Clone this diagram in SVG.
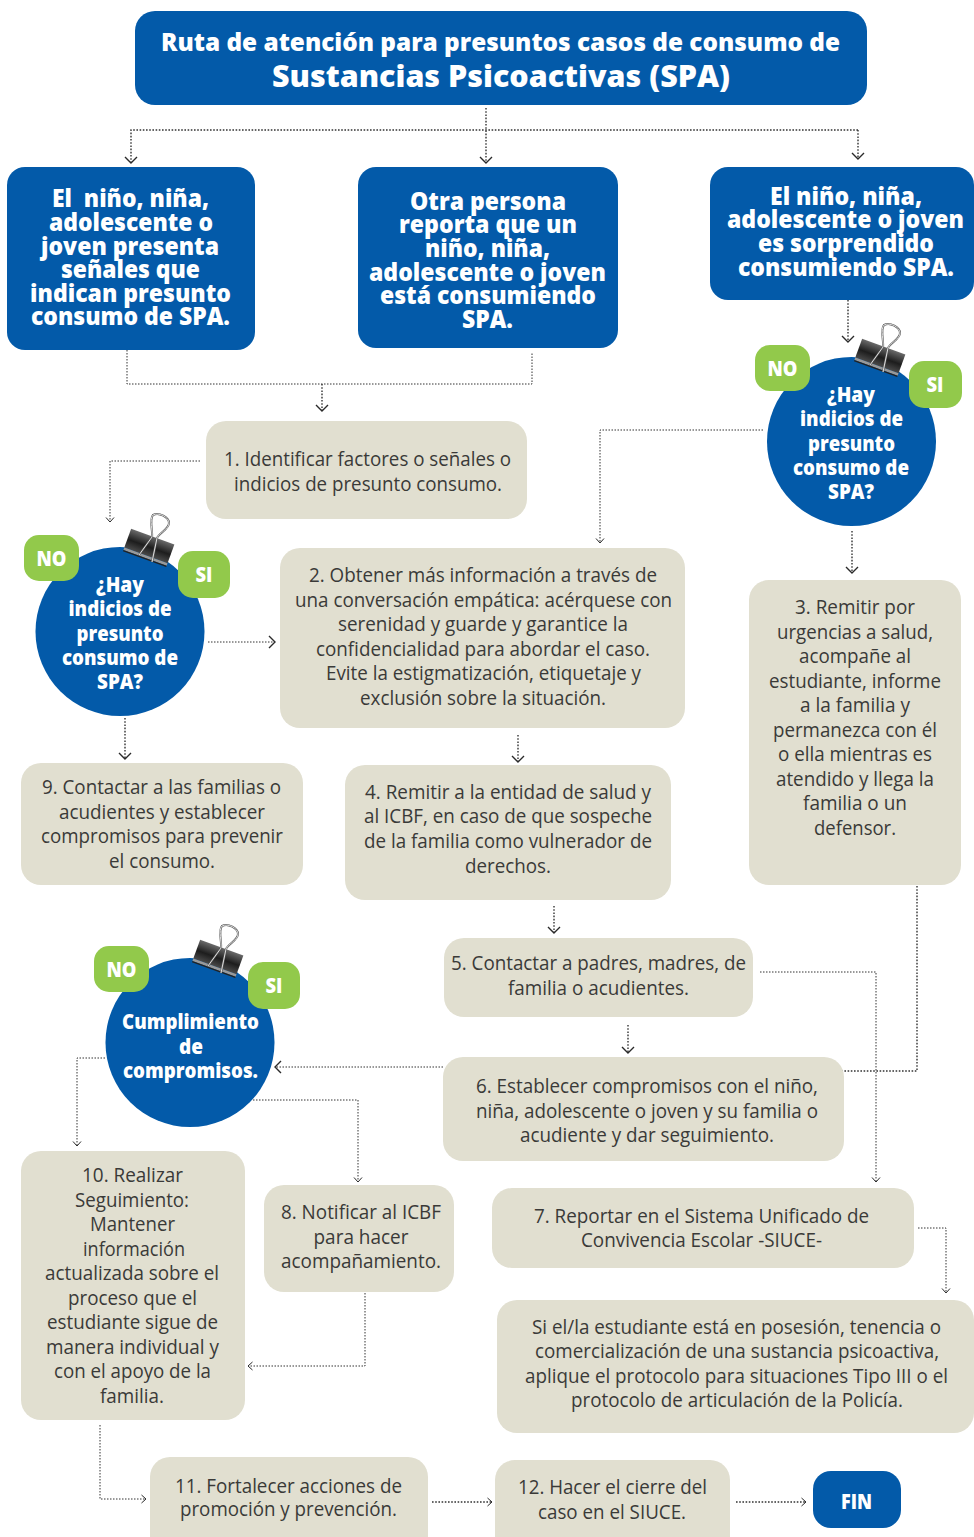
<svg xmlns="http://www.w3.org/2000/svg" width="974" height="1537" viewBox="0 0 974 1537">
<style>
text{font-family:"Open Sans","Noto Sans","Liberation Sans",sans-serif;text-anchor:middle}
.b{fill:#035aa9}
.g{fill:#e1dfd0}
.v{fill:#92c94b}
.t{font-size:20.5px;fill:#3a3a38}
.w{font-size:24px;font-weight:800;fill:#fff}
.q{font-size:21px;font-weight:800;fill:#fff}
.e{text-anchor:end;font-size:19.8px}
.c{fill:none;stroke:#333;stroke-width:1;stroke-dasharray:1.5 1.5}
.c2{fill:none;stroke:#333;stroke-width:1.4;stroke-dasharray:1.6 1.6}
</style>
<defs>
<marker id="a" markerUnits="userSpaceOnUse" markerWidth="14" markerHeight="14" refX="9" refY="7" orient="auto"><path d="M3 1L9 7L3 13" fill="none" stroke="#2a2a2a" stroke-width="1.4"/></marker>
<marker id="s" markerUnits="userSpaceOnUse" markerWidth="10" markerHeight="10" refX="7" refY="5" orient="auto"><path d="M2.500 1L7 5L2.500 9" fill="none" stroke="#2a2a2a" stroke-width="1"/></marker>
<linearGradient id="m" x1="0" y1="0" x2="0" y2="1"><stop offset="0" stop-color="#6a6a6a"/><stop offset=".55" stop-color="#1d1d1d"/><stop offset="1" stop-color="#4a4a4a"/></linearGradient>
<g id="clip">
<g transform="rotate(20)"><rect x="-23" y="-11" width="46" height="20" fill="url(#m)"/><rect x="-23" y="9" width="46" height="2.500" fill="#999"/><rect x="-23" y="11.500" width="46" height="1.500" fill="#222"/></g>
<path d="M-10 8L3-10C4-15 0-28 4-32C10-35 20-30 20-24C20-18 10-14 8-9L3 15" fill="none" stroke="#555" stroke-width="2"/>
<path d="M-10 8L3-10C4-15 0-28 4-32C10-35 20-30 20-24C20-18 10-14 8-9L3 15" fill="none" stroke="#eee" stroke-width=".9"/>
</g>
</defs>
<g id="connectors">
<path class="c2" d="M486 108V163" marker-end="url(#a)"/>
<path class="c2" d="M858 130H131V163" marker-end="url(#a)"/>
<path class="c2" d="M858 130V159" marker-end="url(#a)"/>
<path class="c2" d="M848 300V342" marker-end="url(#a)"/>
<path class="c" d="M127 350V384H532V352"/>
<path class="c2" d="M322 384V411" marker-end="url(#a)"/>
<path class="c" d="M763 430H600V543" marker-end="url(#s)"/>
<path class="c2" d="M852 531V573" marker-end="url(#a)"/>
<path class="c" d="M200 461H110V522" marker-end="url(#s)"/>
<path class="c" d="M208 642H275" marker-end="url(#a)"/>
<path class="c2" d="M125 718V759" marker-end="url(#a)"/>
<path class="c2" d="M518 735V762" marker-end="url(#a)"/>
<path class="c2" d="M554 906V933" marker-end="url(#a)"/>
<path class="c2" d="M628 1025V1053" marker-end="url(#a)"/>
<path class="c2" d="M917 886V1071H841"/>
<path class="c" d="M760 972H876V1182" marker-end="url(#s)"/>
<path class="c" d="M443 1067H275" marker-end="url(#a)"/>
<path class="c" d="M105 1058H77V1146" marker-end="url(#s)"/>
<path class="c" d="M253 1100H358V1182" marker-end="url(#s)"/>
<path class="c" d="M365 1293V1366H248" marker-end="url(#s)"/>
<path class="c" d="M918 1228H946V1293" marker-end="url(#s)"/>
<path class="c" d="M100 1425V1499H146" marker-end="url(#s)"/>
<path class="c2" d="M432 1502H492" marker-end="url(#s)"/>
<path class="c2" d="M736 1502H806" marker-end="url(#s)"/>
</g>
<g id="title">
<rect class="b" x="135" y="11" width="732" height="94" rx="20"/>
<text x="500.500" y="51" font-size="25" font-weight="800" fill="#fff" textLength="679" lengthAdjust="spacingAndGlyphs">Ruta de atención para presuntos casos de consumo de</text>
<text x="501" y="87" font-size="30" font-weight="800" fill="#fff" textLength="458" lengthAdjust="spacingAndGlyphs">Sustancias Psicoactivas (SPA)</text>
</g>
<g id="n-left">
<rect class="b" x="7" y="167" width="248" height="183" rx="18"/>
<text class="w" x="130.500" y="207" textLength="157" lengthAdjust="spacingAndGlyphs" xml:space="preserve">El  niño, niña,</text>
<text class="w" x="131" y="231" textLength="164" lengthAdjust="spacingAndGlyphs">adolescente o</text>
<text class="w" x="130" y="255" textLength="178" lengthAdjust="spacingAndGlyphs">joven presenta</text>
<text class="w" x="130.500" y="278" textLength="139" lengthAdjust="spacingAndGlyphs">señales que</text>
<text class="w" x="130.500" y="302" textLength="201" lengthAdjust="spacingAndGlyphs">indican presunto</text>
<text class="w" x="130.500" y="325" textLength="199" lengthAdjust="spacingAndGlyphs">consumo de SPA.</text>
</g>
<g id="n-mid">
<rect class="b" x="358" y="167" width="260" height="181" rx="18"/>
<text class="w" x="488" y="210" textLength="156" lengthAdjust="spacingAndGlyphs">Otra persona</text>
<text class="w" x="488" y="233" textLength="178" lengthAdjust="spacingAndGlyphs">reporta que un</text>
<text class="w" x="487.500" y="257" textLength="125" lengthAdjust="spacingAndGlyphs">niño, niña,</text>
<text class="w" x="487.500" y="281" textLength="237" lengthAdjust="spacingAndGlyphs">adolescente o joven</text>
<text class="w" x="488" y="304" textLength="216" lengthAdjust="spacingAndGlyphs">está consumiendo</text>
<text class="w" x="487.500" y="328" textLength="51" lengthAdjust="spacingAndGlyphs">SPA.</text>
</g>
<g id="n-right">
<rect class="b" x="710" y="167" width="264" height="133" rx="18"/>
<text class="w" x="846" y="205" textLength="152" lengthAdjust="spacingAndGlyphs">El niño, niña,</text>
<text class="w" x="845.500" y="228" textLength="237" lengthAdjust="spacingAndGlyphs">adolescente o joven</text>
<text class="w" x="846" y="252" textLength="176" lengthAdjust="spacingAndGlyphs">es sorprendido</text>
<text class="w" x="846" y="276" textLength="216" lengthAdjust="spacingAndGlyphs">consumiendo SPA.</text>
</g>
<g id="d-right">
<circle class="b" cx="851.500" cy="441.500" r="84.500"/>
<use href="#clip" x="880" y="357"/>
<rect class="v" x="755" y="345" width="55" height="46" rx="15"/>
<rect class="v" x="909" y="361" width="53" height="47" rx="15"/>
<text class="q" x="782.500" y="376" textLength="30" lengthAdjust="spacingAndGlyphs">NO</text>
<text class="q" x="935" y="392" textLength="17" lengthAdjust="spacingAndGlyphs">SI</text>
<text class="q" x="851" y="402" textLength="48" lengthAdjust="spacingAndGlyphs">¿Hay</text>
<text class="q" x="851.500" y="426" textLength="103" lengthAdjust="spacingAndGlyphs">indicios de</text>
<text class="q" x="851.500" y="451" textLength="87" lengthAdjust="spacingAndGlyphs">presunto</text>
<text class="q" x="851" y="475" textLength="116" lengthAdjust="spacingAndGlyphs">consumo de</text>
<text class="q" x="851" y="499" textLength="46" lengthAdjust="spacingAndGlyphs">SPA?</text>
</g>
<g id="d-left">
<circle class="b" cx="120" cy="631.500" r="84.500"/>
<use href="#clip" x="149" y="547"/>
<rect class="v" x="24" y="535" width="55" height="46" rx="15"/>
<rect class="v" x="178" y="551" width="52" height="47" rx="15"/>
<text class="q" x="51.500" y="566" textLength="30" lengthAdjust="spacingAndGlyphs">NO</text>
<text class="q" x="204" y="582" textLength="17" lengthAdjust="spacingAndGlyphs">SI</text>
<text class="q" x="120" y="592" textLength="48" lengthAdjust="spacingAndGlyphs">¿Hay</text>
<text class="q" x="120" y="616" textLength="103" lengthAdjust="spacingAndGlyphs">indicios de</text>
<text class="q" x="120" y="641" textLength="87" lengthAdjust="spacingAndGlyphs">presunto</text>
<text class="q" x="120" y="665" textLength="116" lengthAdjust="spacingAndGlyphs">consumo de</text>
<text class="q" x="120" y="689" textLength="46" lengthAdjust="spacingAndGlyphs">SPA?</text>
</g>
<g id="d-bottom">
<circle class="b" cx="190" cy="1042.500" r="84.500"/>
<use href="#clip" x="218" y="958"/>
<rect class="v" x="94" y="946" width="55" height="46" rx="15"/>
<rect class="v" x="248" y="962" width="52" height="47" rx="15"/>
<text class="q" x="121.500" y="977" textLength="30" lengthAdjust="spacingAndGlyphs">NO</text>
<text class="q" x="274" y="993" textLength="17" lengthAdjust="spacingAndGlyphs">SI</text>
<text class="q" x="190.500" y="1029" textLength="137" lengthAdjust="spacingAndGlyphs">Cumplimiento</text>
<text class="q" x="191" y="1054" textLength="24" lengthAdjust="spacingAndGlyphs">de</text>
<text class="q" x="190.500" y="1078" textLength="135" lengthAdjust="spacingAndGlyphs">compromisos.</text>
</g>
<g id="s1">
<rect class="g" x="206" y="421" width="321" height="98" rx="20"/>
<text class="t" x="367.500" y="466" textLength="287" lengthAdjust="spacingAndGlyphs">1. Identificar factores o señales o</text>
<text class="t" x="368" y="491" textLength="268" lengthAdjust="spacingAndGlyphs">indicios de presunto consumo.</text>
</g>
<g id="s2">
<rect class="g" x="280" y="548" width="405" height="180" rx="20"/>
<text class="t" x="483" y="582" textLength="348" lengthAdjust="spacingAndGlyphs">2. Obtener más información a través de</text>
<text class="t" x="483.500" y="607" textLength="377" lengthAdjust="spacingAndGlyphs">una conversación empática: acérquese con</text>
<text class="t" x="483" y="631" textLength="290" lengthAdjust="spacingAndGlyphs">serenidad y guarde y garantice la</text>
<text class="t" x="483" y="656" textLength="334" lengthAdjust="spacingAndGlyphs">confidencialidad para abordar el caso.</text>
<text class="t" x="483.500" y="680" textLength="315" lengthAdjust="spacingAndGlyphs">Evite la estigmatización, etiquetaje y</text>
<text class="t" x="483" y="705" textLength="246" lengthAdjust="spacingAndGlyphs">exclusión sobre la situación.</text>
</g>
<g id="s3">
<rect class="g" x="749" y="580" width="212" height="305" rx="20"/>
<text class="t" x="855" y="614" textLength="120" lengthAdjust="spacingAndGlyphs">3. Remitir por</text>
<text class="t" x="855" y="639" textLength="156" lengthAdjust="spacingAndGlyphs">urgencias a salud,</text>
<text class="t" x="855" y="663" textLength="112" lengthAdjust="spacingAndGlyphs">acompañe al</text>
<text class="t" x="855" y="688" textLength="172" lengthAdjust="spacingAndGlyphs">estudiante, informe</text>
<text class="t" x="855" y="712" textLength="110" lengthAdjust="spacingAndGlyphs">a la familia y</text>
<text class="t" x="855" y="737" textLength="164" lengthAdjust="spacingAndGlyphs">permanezca con él</text>
<text class="t" x="855" y="761" textLength="154" lengthAdjust="spacingAndGlyphs">o ella mientras es</text>
<text class="t" x="855" y="786" textLength="158" lengthAdjust="spacingAndGlyphs">atendido y llega la</text>
<text class="t" x="855" y="810" textLength="104" lengthAdjust="spacingAndGlyphs">familia o un</text>
<text class="t" x="855" y="835" textLength="82" lengthAdjust="spacingAndGlyphs">defensor.</text>
</g>
<g id="s4">
<rect class="g" x="345" y="765" width="326" height="135" rx="20"/>
<text class="t" x="508" y="799" textLength="286" lengthAdjust="spacingAndGlyphs">4. Remitir a la entidad de salud y</text>
<text class="t" x="508" y="823" textLength="288" lengthAdjust="spacingAndGlyphs">al ICBF, en caso de que sospeche</text>
<text class="t" x="508" y="848" textLength="288" lengthAdjust="spacingAndGlyphs">de la familia como vulnerador de</text>
<text class="t" x="508" y="873" textLength="86" lengthAdjust="spacingAndGlyphs">derechos.</text>
</g>
<g id="s5">
<rect class="g" x="444" y="938" width="309" height="79" rx="20"/>
<text class="t" x="598.500" y="970" textLength="295" lengthAdjust="spacingAndGlyphs">5. Contactar a padres, madres, de</text>
<text class="t" x="598.500" y="995" textLength="181" lengthAdjust="spacingAndGlyphs">familia o acudientes.</text>
</g>
<g id="s6">
<rect class="g" x="443" y="1057" width="401" height="104" rx="20"/>
<text class="t" x="647" y="1093" textLength="342" lengthAdjust="spacingAndGlyphs">6. Establecer compromisos con el niño,</text>
<text class="t" x="647" y="1118" textLength="342" lengthAdjust="spacingAndGlyphs">niña, adolescente o joven y su familia o</text>
<text class="t" x="647" y="1142" textLength="254" lengthAdjust="spacingAndGlyphs">acudiente y dar seguimiento.</text>
</g>
<g id="s7">
<rect class="g" x="492" y="1188" width="422" height="80" rx="20"/>
<text class="t" x="701.500" y="1223" textLength="335" lengthAdjust="spacingAndGlyphs">7. Reportar en el Sistema Unificado de</text>
<text class="t" x="701.500" y="1247" textLength="241" lengthAdjust="spacingAndGlyphs">Convivencia Escolar -SIUCE-</text>
</g>
<g id="s7b">
<rect class="g" x="497" y="1300" width="477" height="133" rx="20"/>
<text class="t e" x="941" y="1334" textLength="409" lengthAdjust="spacingAndGlyphs">Si el/la estudiante está en posesión, tenencia o</text>
<text class="t e" x="939" y="1358" textLength="404" lengthAdjust="spacingAndGlyphs">comercialización de una sustancia psicoactiva,</text>
<text class="t e" x="948" y="1383" textLength="423" lengthAdjust="spacingAndGlyphs">aplique el protocolo para situaciones Tipo III o el</text>
<text class="t e" x="903" y="1407" textLength="332" lengthAdjust="spacingAndGlyphs">protocolo de articulación de la Policía.</text>
</g>
<g id="s8">
<rect class="g" x="264" y="1185" width="190" height="107" rx="20"/>
<text class="t" x="361" y="1219" textLength="160" lengthAdjust="spacingAndGlyphs">8. Notificar al ICBF</text>
<text class="t" x="361" y="1244" textLength="95" lengthAdjust="spacingAndGlyphs">para hacer</text>
<text class="t" x="361" y="1268" textLength="160" lengthAdjust="spacingAndGlyphs">acompañamiento.</text>
</g>
<g id="s9">
<rect class="g" x="21" y="763" width="282" height="122" rx="20"/>
<text class="t" x="161.500" y="794" textLength="239" lengthAdjust="spacingAndGlyphs">9. Contactar a las familias o</text>
<text class="t" x="162" y="819" textLength="206" lengthAdjust="spacingAndGlyphs">acudientes y establecer</text>
<text class="t" x="162" y="843" textLength="242" lengthAdjust="spacingAndGlyphs">compromisos para prevenir</text>
<text class="t" x="162" y="868" textLength="106" lengthAdjust="spacingAndGlyphs">el consumo.</text>
</g>
<g id="s10">
<rect class="g" x="21" y="1151" width="224" height="269" rx="20"/>
<text class="t" x="132.500" y="1182" textLength="101" lengthAdjust="spacingAndGlyphs">10. Realizar</text>
<text class="t" x="132" y="1207" textLength="114" lengthAdjust="spacingAndGlyphs">Seguimiento:</text>
<text class="t" x="132.500" y="1231" textLength="85" lengthAdjust="spacingAndGlyphs">Mantener</text>
<text class="t" x="134" y="1256" textLength="102" lengthAdjust="spacingAndGlyphs">información</text>
<text class="t" x="132" y="1280" textLength="174" lengthAdjust="spacingAndGlyphs">actualizada sobre el</text>
<text class="t" x="132.500" y="1305" textLength="129" lengthAdjust="spacingAndGlyphs">proceso que el</text>
<text class="t" x="132.500" y="1329" textLength="171" lengthAdjust="spacingAndGlyphs">estudiante sigue de</text>
<text class="t" x="132.500" y="1354" textLength="173" lengthAdjust="spacingAndGlyphs">manera individual y</text>
<text class="t" x="132.500" y="1378" textLength="157" lengthAdjust="spacingAndGlyphs">con el apoyo de la</text>
<text class="t" x="132" y="1403" textLength="64" lengthAdjust="spacingAndGlyphs">familia.</text>
</g>
<g id="s11">
<rect class="g" x="150" y="1457" width="278" height="100" rx="20"/>
<text class="t" x="288.500" y="1493" textLength="227" lengthAdjust="spacingAndGlyphs">11. Fortalecer acciones de</text>
<text class="t" x="288.500" y="1516" textLength="217" lengthAdjust="spacingAndGlyphs">promoción y prevención.</text>
</g>
<g id="s12">
<rect class="g" x="495" y="1460" width="235" height="100" rx="20"/>
<text class="t" x="612.500" y="1494" textLength="189" lengthAdjust="spacingAndGlyphs">12. Hacer el cierre del</text>
<text class="t" x="612" y="1519" textLength="148" lengthAdjust="spacingAndGlyphs">caso en el SIUCE.</text>
</g>
<g id="fin">
<rect class="b" x="813" y="1471" width="88" height="57" rx="18"/>
<text class="q" x="856.500" y="1509" textLength="31" lengthAdjust="spacingAndGlyphs">FIN</text>
</g>
</svg>
